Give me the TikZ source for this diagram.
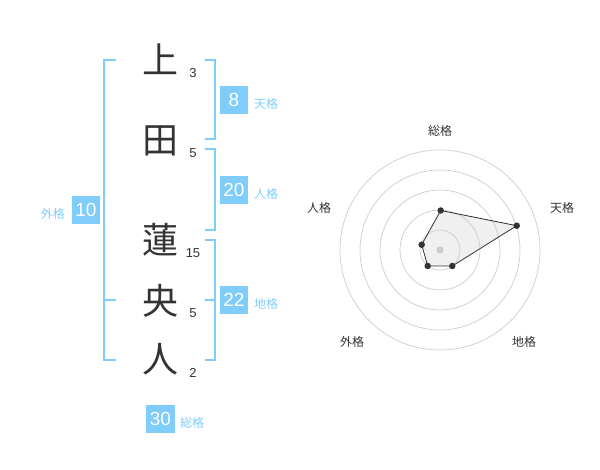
\documentclass[tikz,border=0pt]{standalone}
\usepackage{fontspec}
\setmainfont{Liberation Sans}
\newfontfamily\jpfont{Noto Sans CJK JP}
\definecolor{kblue}{HTML}{80CCFA}
\definecolor{kdark}{HTML}{333333}
\definecolor{kgrid}{HTML}{CCCCCC}
\tikzset{
  kanji/.style={font=\jpfont\fontsize{36}{36}\selectfont, text=kdark, inner sep=0pt},
  strokenum/.style={font=\fontsize{13}{13}\selectfont, text=kdark, inner sep=0pt},
  valbox/.style={fill=kblue, text=white, font=\fontsize{19}{19}\selectfont, minimum width=28.5pt, minimum height=28.5pt, inner sep=0pt},
  vallabel/.style={font=\jpfont\fontsize{12}{12}\selectfont, text=kblue, inner sep=0pt},
  bracket/.style={draw=kblue, line width=2pt},
  axislabel/.style={font=\jpfont\fontsize{12}{12}\selectfont, text=kdark, inner sep=0pt},
  ring/.style={draw=kgrid, line width=0.7pt},
  pt/.style={circle, fill=kdark, minimum size=6.5pt, inner sep=0pt},
}
\begin{document}
\begin{tikzpicture}[x=1pt,y=-1pt]
\useasboundingbox (0,0) rectangle (600,470);
% characters
\node[kanji] (c1) at (160,59) {上};
\node[kanji] (c2) at (160,141) {田};
\node[kanji] (c3) at (160,240) {蓮};
\node[kanji] (c4) at (160,301) {央};
\node[kanji] (c5) at (160,359) {人};
\node[strokenum] (n1) at (193,73) {3};
\node[strokenum] (n2) at (193,153) {5};
\node[strokenum] (n3) at (193,253) {15};
\node[strokenum] (n4) at (193,313) {5};
\node[strokenum] (n5) at (193,373) {2};
% brackets
\draw[bracket] (116,60) -- (104,60) -- (104,360) -- (116,360);
\draw[bracket] (104,300) -- (116,300);
\draw[bracket] (205,60) -- (215,60) -- (215,139) -- (205,139);
\draw[bracket] (205,149) -- (215,149) -- (215,230) -- (205,230);
\draw[bracket] (205,240) -- (215,240) -- (215,360) -- (205,360);
\draw[bracket] (205,300) -- (215,300);
% value boxes
\node[valbox] (ten) at (234,100) {8};
\node[vallabel,anchor=west] (tenl) at (254,104) {天格};
\node[valbox] (jin) at (234,190) {20};
\node[vallabel,anchor=west] (jinl) at (254,194) {人格};
\node[valbox] (chi) at (234,300) {22};
\node[vallabel,anchor=west] (chil) at (254,304) {地格};
\node[valbox] (gai) at (86,210) {10};
\node[vallabel,anchor=east] (gail) at (65,214) {外格};
\node[valbox] (sou) at (160.5,419) {30};
\node[vallabel,anchor=west] (soul) at (180,423) {総格};
% radar
\coordinate (o) at (440,250);
\foreach \r in {20,40,60,80,100} \draw[ring] (o) circle[radius=\r];
\coordinate (pS) at (440.7,210.5);
\coordinate (pT) at (516.7,225.7);
\coordinate (pC) at (452.3,266);
\coordinate (pG) at (427.7,266);
\coordinate (pJ) at (421.7,244.7);
\fill[kgrid, fill opacity=0.3] (pS) -- (pT) -- (pC) -- (pG) -- (pJ) -- cycle;
\draw[kdark, line width=0.8pt] (pS) -- (pT) -- (pC) -- (pG) -- (pJ) -- cycle;
\node[circle, fill=kgrid, minimum size=7pt, inner sep=0pt] (ctr) at (o) {};
\foreach \p in {pS,pT,pC,pG,pJ} \node[pt] at (\p) {};
\node[axislabel] (aS) at (440,131) {総格};
\node[axislabel] (aT) at (562,208) {天格};
\node[axislabel] (aC) at (524,342) {地格};
\node[axislabel] (aG) at (352,342) {外格};
\node[axislabel] (aJ) at (319,208) {人格};
\end{tikzpicture}
\end{document}
